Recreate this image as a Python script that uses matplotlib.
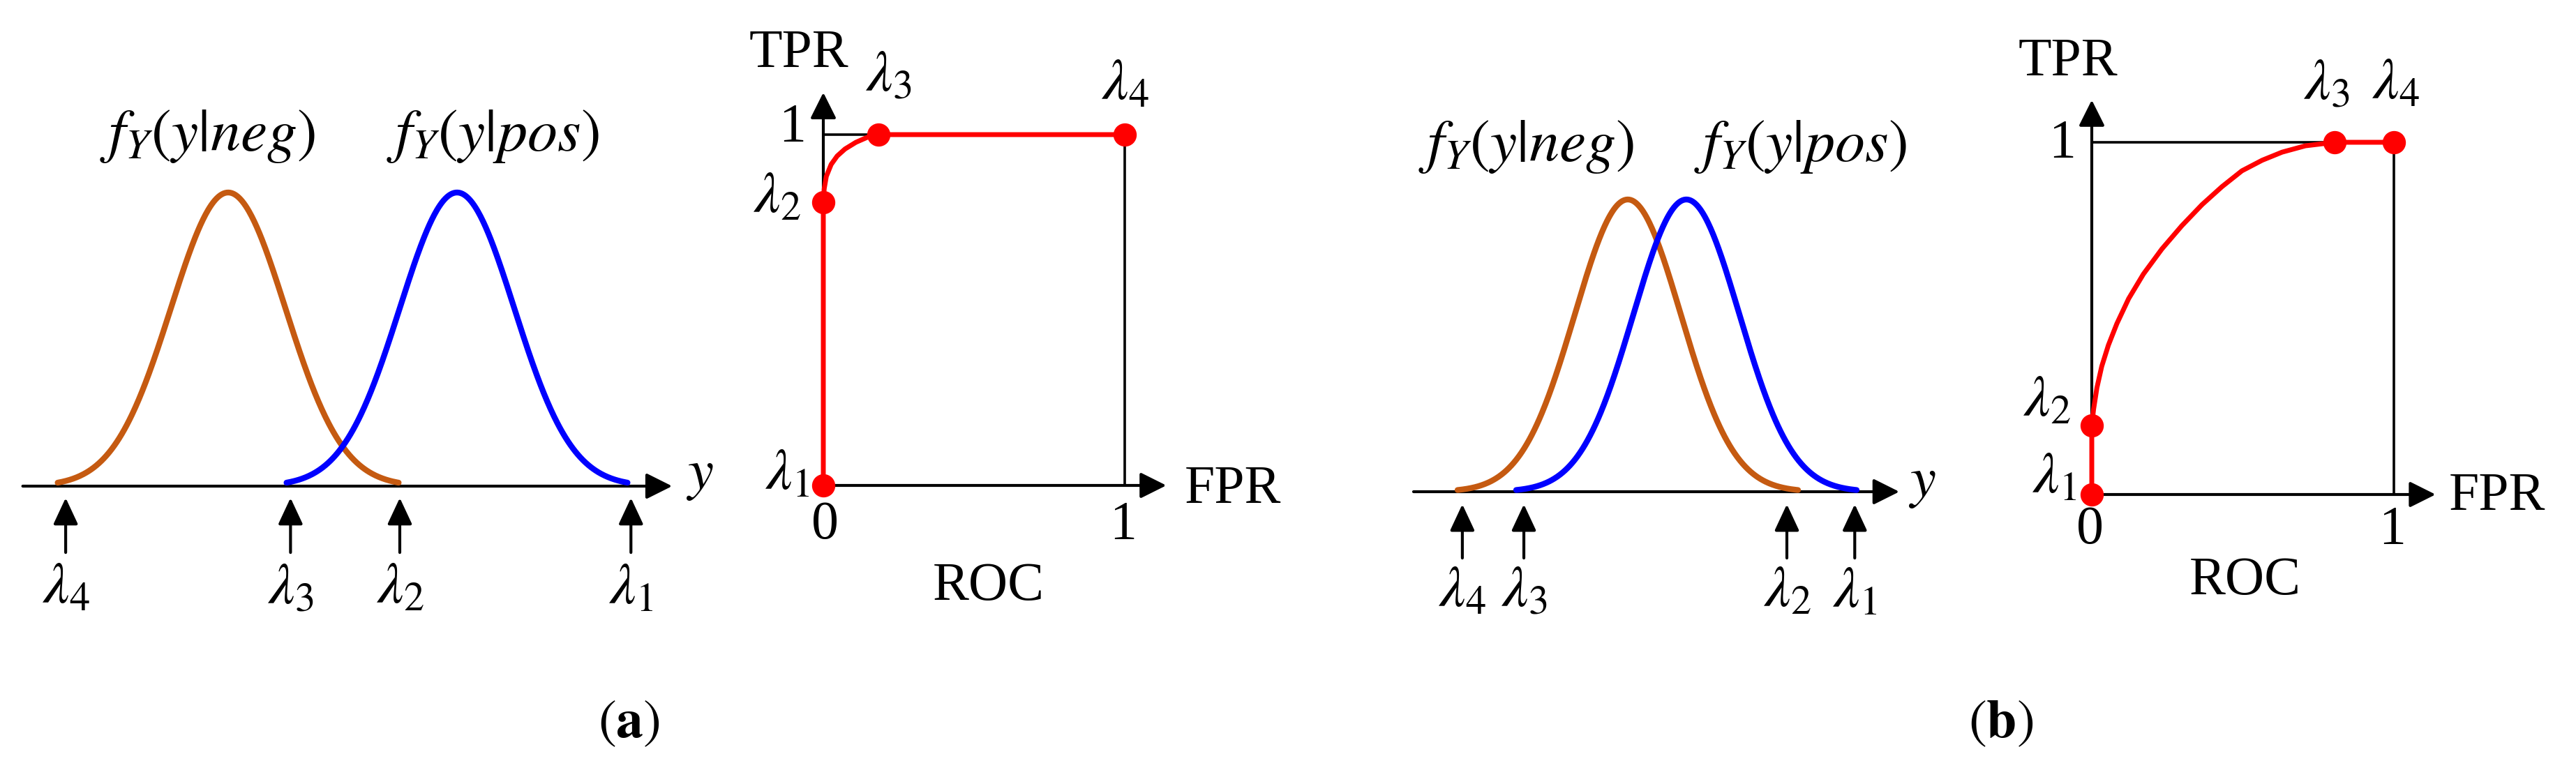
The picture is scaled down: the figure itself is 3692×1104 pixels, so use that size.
"""Two-class score densities and the ROC curves they produce, panels (a) and (b)."""

import matplotlib.pyplot as plt
import numpy as np

W, H = 3692, 1104
DPI = 100

NEG_COLOR = "#C55A11"
POS_COLOR = "#0000FF"
ROC_COLOR = "#FF0000"

# ---- panel (a): well separated classes (units of sigma, peak height = 1)
a_means = [0.0, 4.0]                     # neg, pos
a_half_width = 2.98                      # curves drawn over mean +/- this
a_lambdas = [7.04, 3.0, 1.09, -2.84]     # lambda_1 .. lambda_4 on the y axis
a_axis = [-3.59, 7.76]
a_roc_lambdas_fpr = [0.0, 0.0, 0.184, 1.0]
a_roc_lambdas_tpr = [0.0, 0.807, 1.0, 1.0]
a_curve_fpr = [0.0, 0.003, 0.010, 0.026, 0.046, 0.072, 0.108, 0.145, 0.184]
a_curve_tpr = [0.807, 0.846, 0.881, 0.915, 0.939, 0.959, 0.978, 0.992, 1.0]

# ---- panel (b): overlapping classes
b_means = [0.0, 1.105]
b_half_width = 3.21
b_lambdas = [4.28, 3.0, -1.96, -3.12]
b_axis = [-4.04, 5.12]
b_roc_lambdas_fpr = [0.0, 0.0, 0.804, 1.0]
b_roc_lambdas_tpr = [0.0, 0.197, 1.0, 1.0]
b_curve_fpr = [0.0, 0.006, 0.017, 0.033, 0.055, 0.083, 0.122, 0.171, 0.232,
               0.298, 0.365, 0.431, 0.497, 0.564, 0.630, 0.707, 0.804]
b_curve_tpr = [0.197, 0.242, 0.303, 0.364, 0.424, 0.485, 0.556, 0.626, 0.697,
               0.763, 0.823, 0.874, 0.919, 0.949, 0.972, 0.990, 1.0]

LAMBDA_LABELS = [r"$\lambda_1$", r"$\lambda_2$", r"$\lambda_3$", r"$\lambda_4$"]

plt.rcParams["font.family"] = ["Liberation Serif", "DejaVu Serif"]
plt.rcParams["mathtext.fontset"] = "stix"

TXT = 56       # tick digits, TPR/FPR/ROC
LAM_TXT = 60   # lambda labels
DENS_TXT = 62  # f_Y(y|.) labels
AXIS_LW = 3.0
THIN_LW = 2.6


def panel_axes(fig, box, origin, scale):
    """Axes over a pixel box (left, top, right, bottom) with data origin/scale in pixels."""
    left, top, right, bottom = box
    ox, oy = origin
    sx, sy = scale
    ax = fig.add_axes([left / W, 1 - bottom / H, (right - left) / W, (bottom - top) / H])
    ax.set_xlim((left - ox) / sx, (right - ox) / sx)
    ax.set_ylim((oy - bottom) / sy, (oy - top) / sy)
    ax.axis("off")
    return ax


def axis_arrow(ax, start, end, lw=AXIS_LW):
    ax.annotate("", xy=end, xytext=start,
                arrowprops=dict(arrowstyle="-|>", mutation_scale=57, lw=lw,
                                color="black", shrinkA=0, shrinkB=0))


def draw_densities(ax, means, half_width, lambdas, axis, labels_xy, lam_label_y,
                   arrow_y, ylabel_xy):
    axis_arrow(ax, (axis[0], 0), (axis[1], 0))
    z = np.linspace(-half_width, half_width, 400)
    for mu, color in zip(means, [NEG_COLOR, POS_COLOR]):
        ax.plot(mu + z, np.exp(-z ** 2 / 2), color=color, lw=6,
                solid_capstyle="round", zorder=3)

    for lam, lab in zip(lambdas, LAMBDA_LABELS):
        ax.annotate("", xy=(lam, arrow_y[0]), xytext=(lam, arrow_y[1]),
                    arrowprops=dict(arrowstyle="-|>,head_length=0.45,head_width=0.21",
                                    mutation_scale=52, lw=AXIS_LW, color="black",
                                    shrinkA=0, shrinkB=0))
        ax.text(lam, lam_label_y, lab, ha="center", va="center", fontsize=LAM_TXT)

    texts = [r"$f_Y(y|neg)$", r"$f_Y(y|pos)$"]
    for (x, y), t in zip(labels_xy, texts):
        ax.text(x, y, t, ha="center", va="center", fontsize=DENS_TXT)
    ax.text(ylabel_xy[0], ylabel_xy[1], r"$y$", ha="left", va="center", fontsize=LAM_TXT)


def draw_roc(ax, lam_fpr, lam_tpr, curve_fpr, curve_tpr, text_pos):
    # axes with arrows and the unit box
    axis_arrow(ax, (0, 0), (0, 1.12))
    axis_arrow(ax, (0, 0), (1.138, 0))
    ax.plot([0, 1, 1], [1, 1, 0], color="black", lw=THIN_LW, zorder=2)

    # ROC: vertical run lambda_1 -> lambda_2, curve to lambda_3, flat to lambda_4
    fpr = [lam_fpr[0]] + curve_fpr + [lam_fpr[3]]
    tpr = [lam_tpr[0]] + curve_tpr + [lam_tpr[3]]
    ax.plot(fpr, tpr, color=ROC_COLOR, lw=5, solid_joinstyle="round", zorder=4)
    ax.plot(lam_fpr, lam_tpr, "o", color=ROC_COLOR, ms=23, zorder=5)

    for key, s, ha in [("tpr", "TPR", "center"), ("one_y", "1", "center"),
                       ("zero", "0", "center"), ("one_x", "1", "center"),
                       ("fpr", "FPR", "left"), ("roc", "ROC", "center")]:
        x, y = text_pos[key]
        ax.text(x, y, s, ha=ha, va="center", fontsize=TXT)
    for (x, y), lab, ha in zip(text_pos["lambdas"], LAMBDA_LABELS,
                               ["right", "right", "center", "center"]):
        ax.text(x, y, lab, ha=ha, va="center", fontsize=LAM_TXT)


fig = plt.figure(figsize=(W / DPI, H / DPI), dpi=DPI)

# (a) densities
ax = panel_axes(fig, (0, 100, 1080, 930), (327, 697), (82, 421))
draw_densities(ax, a_means, a_half_width, a_lambdas, a_axis,
               labels_xy=[(-0.366, 1.192), (4.62, 1.192)], lam_label_y=-0.352,
               arrow_y=(-0.040, -0.226), ylabel_xy=(8.0, 0.035))

# (a) ROC
ax = panel_axes(fig, (1020, 20, 1850, 900), (1180, 696), (432, 503))
draw_roc(ax, a_roc_lambdas_fpr, a_roc_lambdas_tpr, a_curve_fpr, a_curve_tpr,
         {"tpr": (-0.081, 1.231), "one_y": (-0.104, 1.02), "zero": (0.005, -0.113),
          "one_x": (0.995, -0.113), "fpr": (1.199, -0.012), "roc": (0.549, -0.288),
          "lambdas": [(-0.045, 0.030), (-0.075, 0.817), (0.215, 1.163), (1.002, 1.139)]})

# (b) densities
ax = panel_axes(fig, (1950, 100, 2860, 930), (2333, 705), (76, 419))
draw_densities(ax, b_means, b_half_width, b_lambdas, b_axis,
               labels_xy=[(-1.92, 1.181), (3.26, 1.181)], lam_label_y=-0.346,
               arrow_y=(-0.043, -0.227), ylabel_xy=(5.29, 0.029))

# (b) ROC
ax = panel_axes(fig, (2860, 20, 3692, 900), (2998, 709), (433, 505))
draw_roc(ax, b_roc_lambdas_fpr, b_roc_lambdas_tpr, b_curve_fpr, b_curve_tpr,
         {"tpr": (-0.079, 1.228), "one_y": (-0.097, 0.996), "zero": (-0.005, -0.101),
          "one_x": (0.995, -0.101), "fpr": (1.182, -0.006), "roc": (0.508, -0.246),
          "lambdas": [(-0.05, 0.046), (-0.07, 0.261), (0.776, 1.162), (1.005, 1.162)]})

fig.text(901 / W, 1 - 1038 / H, r"$(\mathbf{a})$", ha="center", va="center", fontsize=TXT)
fig.text(2868 / W, 1 - 1038 / H, r"$(\mathbf{b})$", ha="center", va="center", fontsize=TXT)

fig.savefig("out.png", dpi=DPI, facecolor="white")
